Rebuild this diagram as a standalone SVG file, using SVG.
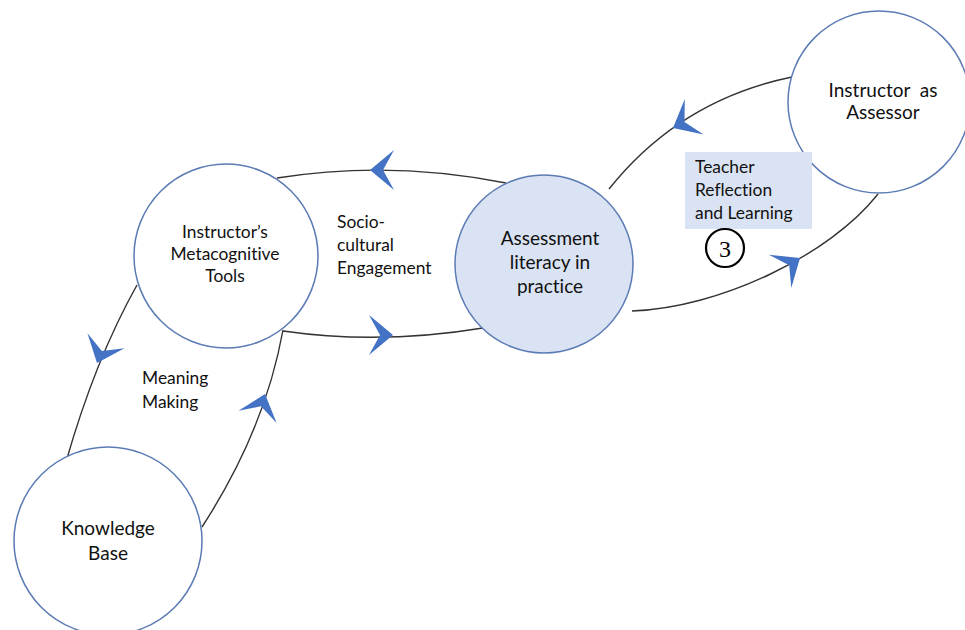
<svg xmlns="http://www.w3.org/2000/svg" width="965" height="630" viewBox="0 0 965 630">
<style>
.node{fill:#ffffff;stroke:#5b7bb4;stroke-width:1.5}
.hl{fill:#dae3f3}
.lbl{font-family:Lato,"Liberation Sans",sans-serif;fill:#111;font-size:17.4px;font-variant-ligatures:none}
.big{font-size:19px}
.conn{fill:none;stroke:#333;stroke-width:1.4}
.ah{fill:#4472c4}
</style>
<defs>
<path id="arr" d="M0,0 L-24,-20 L-13,0 L-24,20 Z"/>
</defs>
<rect width="965" height="630" fill="#ffffff"/>
<g id="connectors">
<path class="conn" d="M277,178 Q390,160 506,183"/>
<path class="conn" d="M283,331 Q380,345 483,328"/>
<path class="conn" d="M137,285 Q95,360 66,462"/>
<path class="conn" d="M202,527 Q265,430 283,330"/>
<path class="conn" d="M609,189 Q680,100 792,77"/>
<path class="conn" d="M632,311 C720,308 830,255 878,194"/>
<use href="#arr" class="ah" transform="translate(370,170) rotate(180)"/>
<use href="#arr" class="ah" transform="translate(393,335)"/>
<use href="#arr" class="ah" transform="translate(97,363) rotate(112)"/>
<use href="#arr" class="ah" transform="translate(265,394) rotate(-72)"/>
<use href="#arr" class="ah" transform="translate(673,128) rotate(152)"/>
<use href="#arr" class="ah" transform="translate(800,258) rotate(-34)"/>
</g>
<g id="metacognitive">
<circle class="node" cx="226" cy="256" r="92"/>
<text class="lbl" text-anchor="middle"><tspan x="225" y="238">Instructor’s</tspan><tspan x="225" y="260">Metacognitive</tspan><tspan x="225" y="282">Tools</tspan></text>
</g>
<g id="assessment">
<circle class="node hl" cx="544" cy="264" r="89"/>
<text class="lbl big" text-anchor="middle"><tspan x="550" y="245">Assessment</tspan><tspan x="550" y="269">literacy in</tspan><tspan x="550" y="293">practice</tspan></text>
</g>
<g id="assessor">
<circle class="node" cx="879" cy="102" r="91"/>
<text class="lbl big" text-anchor="middle" xml:space="preserve"><tspan x="883" y="97">Instructor  as</tspan><tspan x="883" y="119">Assessor</tspan></text>
</g>
<g id="knowledge">
<circle class="node" cx="108" cy="541" r="94"/>
<text class="lbl big" text-anchor="middle"><tspan x="108" y="535">Knowledge</tspan><tspan x="108" y="560">Base</tspan></text>
</g>
<g id="socio">
<text class="lbl"><tspan x="337" y="228">Socio-</tspan><tspan x="337" y="251">cultural</tspan><tspan x="337" y="274">Engagement</tspan></text>
</g>
<g id="meaning">
<text class="lbl"><tspan x="142" y="384">Meaning</tspan><tspan x="142" y="408">Making</tspan></text>
</g>
<g id="reflection">
<rect x="685" y="152" width="127" height="77" class="hl"/>
<text class="lbl"><tspan x="695" y="173">Teacher</tspan><tspan x="695" y="196">Reflection</tspan><tspan x="695" y="219">and Learning</tspan></text>
</g>
<g id="badge">
<circle cx="725" cy="248" r="19" fill="none" stroke="#000" stroke-width="2.2"/>
<text x="725" y="257" text-anchor="middle" font-family="'Liberation Serif',serif" font-size="24" fill="#000">3</text>
</g>
</svg>
